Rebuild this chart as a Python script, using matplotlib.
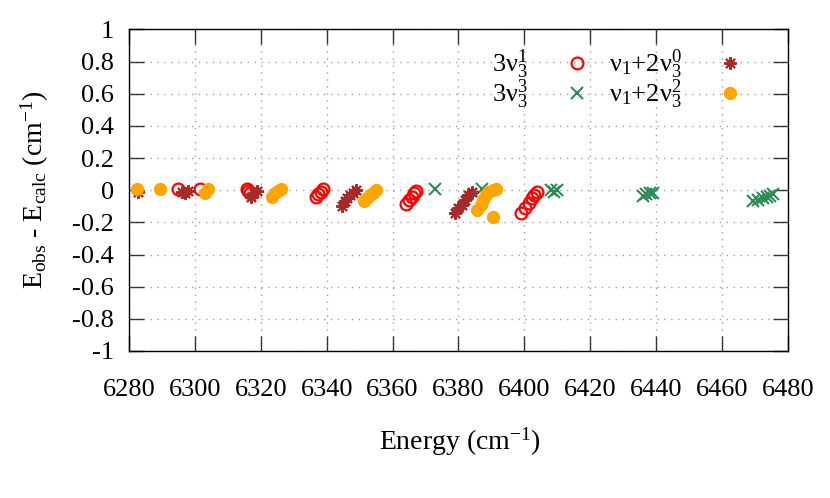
import matplotlib
matplotlib.use('Agg')
import matplotlib.pyplot as plt
from matplotlib.ticker import FormatStrFormatter

plt.rcParams['font.family'] = ['Liberation Serif', 'DejaVu Serif']
plt.rcParams['mathtext.default'] = 'regular'
plt.rcParams['axes.unicode_minus'] = False

# 3nu3^1 (red open circles)
x_31 = [6294.9, 6301.5, 6315.7, 6316.1, 6316.6,
        6336.8, 6337.5, 6338.3, 6339.0,
        6364.2, 6365.0, 6365.8, 6366.5, 6367.2,
        6399.0, 6400.3, 6401.3, 6402.2, 6403.0, 6403.8]
y_31 = [0.01, 0.005, 0.01, -0.005, -0.02,
        -0.04, -0.025, -0.01, 0.005,
        -0.085, -0.06, -0.04, -0.02, -0.005,
        -0.14, -0.11, -0.08, -0.05, -0.03, -0.01]

# 3nu3^3 (green crosses)
x_33 = [6372.9, 6387.0,
        6408.0, 6409.0, 6410.0,
        6436.0, 6437.0, 6438.0, 6439.0,
        6469.5, 6471.0, 6472.5, 6473.5, 6474.5, 6475.5]
y_33 = [0.01, 0.01,
        0.0, -0.01, 0.0,
        -0.035, -0.025, -0.02, -0.015,
        -0.07, -0.06, -0.05, -0.04, -0.035, -0.025]

# nu1+2nu3^0 (brown stars)
x_20 = [6282.7, 6296.0, 6297.0, 6298.0,
        6317.0, 6318.0, 6319.0,
        6344.5, 6345.5, 6346.3, 6347.2, 6348.0, 6348.8,
        6379.0, 6380.0, 6381.0, 6382.0, 6383.0, 6384.0]
y_20 = [-0.01, -0.01, -0.02, -0.005,
        -0.04, -0.02, -0.005,
        -0.095, -0.07, -0.05, -0.03, -0.015, 0.0,
        -0.14, -0.11, -0.09, -0.06, -0.03, -0.01]

# nu1+2nu3^2 (orange filled circles)
x_22 = [6282.3, 6289.4, 6303.0, 6304.0,
        6323.5, 6324.3, 6325.2, 6326.0,
        6351.3, 6352.2, 6353.1, 6354.0, 6355.0,
        6385.5, 6386.8, 6387.5, 6388.3, 6389.0, 6390.5, 6391.5, 6390.6]
y_22 = [0.01, 0.01, -0.02, 0.005,
        -0.04, -0.02, -0.005, 0.01,
        -0.07, -0.05, -0.03, -0.015, 0.0,
        -0.12, -0.09, -0.06, -0.03, -0.01, 0.0, 0.01, -0.165]

fig = plt.figure(figsize=(8.3, 4.98), dpi=100)
ax = fig.add_axes([0.1554, 0.2952, 0.7940, 0.6456])

ax.plot(x_31, y_31, linestyle='None', marker='o', markersize=8.5, markerfacecolor='none',
        markeredgecolor='#ff0000', markeredgewidth=1.6, label=r'3$\nu_3^1$')
ax.plot(x_33, y_33, linestyle='None', marker='x', markersize=8,
        color='#2e8b57', markeredgewidth=1.5, label=r'3$\nu_3^3$')
ax.plot(x_20, y_20, linestyle='None', marker=(8, 2, 0), markersize=9,
        color='#a52a2a', markeredgewidth=1.5, label=r'$\nu_1$+2$\nu_3^0$')
ax.plot(x_22, y_22, linestyle='None', marker='o', markersize=9.5,
        color='#ffa500', markeredgewidth=0, label=r'$\nu_1$+2$\nu_3^2$')

ax.set_xlim(6280, 6480)
ax.set_ylim(-1, 1)
ax.set_xticks(range(6280, 6481, 20))
ax.set_yticks([i / 10 for i in range(-10, 11, 2)])
ax.yaxis.set_major_formatter(FormatStrFormatter('%g'))

ax.tick_params(direction='in', top=True, right=True, length=11, width=1,
               labelsize=19, color='#333333')
ax.tick_params(axis='y', pad=11)
ax.tick_params(axis='x', pad=20)
for s in ax.spines.values():
    s.set_color('black')
    s.set_linewidth(1)

ax.grid(True, linestyle=(0, (1, 4)), color='#a0a0a0', linewidth=1)
ax.set_axisbelow(True)

fig.text(460 / 830, 1 - 442 / 498, 'Energy (cm$^{-1}$)', fontsize=20,
         ha='center', va='center')
fig.text(35 / 830, 1 - 190 / 498, 'E$_{obs}$ - E$_{calc}$ (cm$^{-1}$)', fontsize=20,
         ha='center', va='center', rotation=90)

ax.legend(ncol=2, loc='upper right', bbox_to_anchor=(754 / 830, 1 - 37 / 498),
          bbox_transform=fig.transFigure, frameon=False,
          markerfirst=False, fontsize=19, handlelength=1.0, handletextpad=1.34,
          columnspacing=0.72, labelspacing=-0.12, borderaxespad=0)

fig.savefig('out.png', dpi=100)
